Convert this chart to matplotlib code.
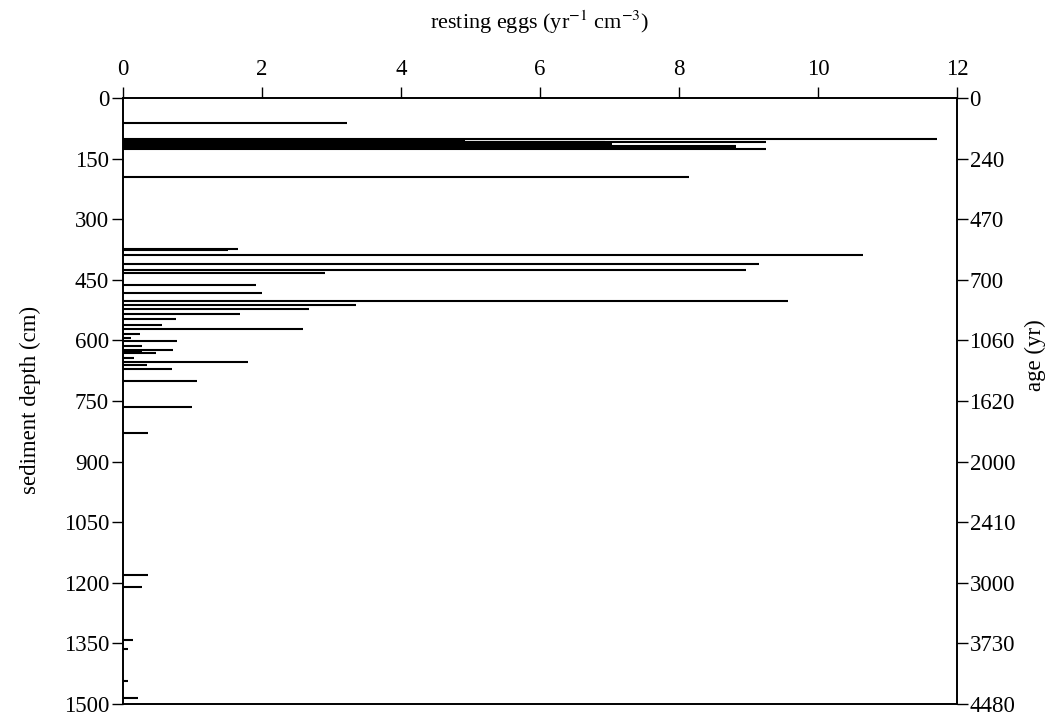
import matplotlib
matplotlib.use("Agg")
import matplotlib.pyplot as plt

# sediment depth (cm) of each sample and resting egg flux (yr^-1 cm^-3)
depth_cm = [62, 102, 104, 106, 108, 110, 112, 114, 119, 121, 123, 125, 127, 196,
            373, 377, 389, 412, 425, 433, 462, 482, 502, 512, 523, 534, 548,
            563, 572, 583, 593, 602, 613, 624, 627, 629, 631, 643, 653, 662,
            672, 700, 765, 829, 1180, 1211, 1341, 1365, 1443, 1484]
eggs = [3.23, 11.71, 4.92, 4.92, 9.25, 6.93, 6.93, 7.03, 8.82, 8.82, 8.82, 8.82, 9.25, 8.14,
        1.66, 1.51, 10.65, 9.15, 8.97, 2.90, 1.91, 2.00, 9.57, 3.35, 2.68, 1.68, 0.76,
        0.56, 2.59, 0.24, 0.12, 0.77, 0.27, 0.72, 0.28, 0.28, 0.47, 0.16, 1.80, 0.34,
        0.71, 1.06, 1.00, 0.36, 0.36, 0.28, 0.15, 0.07, 0.07, 0.21]

depth_ticks = [0, 150, 300, 450, 600, 750, 900, 1050, 1200, 1350, 1500]
age_labels = ["0", "240", "470", "700", "1060", "1620", "2000", "2410", "3000", "3730", "4480"]
egg_ticks = [0, 2, 4, 6, 8, 10, 12]

plt.rcParams['font.family'] = ['Liberation Serif', 'DejaVu Serif']
plt.rcParams['mathtext.fontset'] = 'stix'

fig = plt.figure(figsize=(10.63, 7.15), dpi=100)
ax = fig.add_axes([0.1157, 0.0154, 0.7846, 0.8476])

ax.hlines(depth_cm, 0, eggs, color='black', linewidth=1.5)

ax.set_xlim(0, 12)
ax.set_ylim(1500, 0)
ax.xaxis.tick_top()
ax.set_xticks(egg_ticks)
ax.set_yticks(depth_ticks)
ax.tick_params(axis='x', direction='out', length=8, width=1, labelsize=16.5, pad=5)
ax.tick_params(axis='y', direction='out', length=8, width=1, labelsize=16.5, pad=2)
for s in ax.spines.values():
    s.set_linewidth(1.2)

ax2 = ax.twinx()
ax2.set_ylim(1500, 0)
ax2.set_yticks(depth_ticks)
ax2.set_yticklabels(age_labels)
ax2.tick_params(axis='y', direction='out', length=8, width=1, labelsize=16.5, pad=1)
for s in ax2.spines.values():
    s.set_linewidth(1.2)

fig.text(0.508, 0.969, 'resting eggs (yr$^{-1}$ cm$^{-3}$)', ha='center', va='center', fontsize=16)
fig.text(0.029, 0.44, 'sediment depth (cm)', rotation=90, ha='center', va='center', fontsize=16.5)
fig.text(0.974, 0.503, 'age (yr)', rotation=90, ha='center', va='center', fontsize=16.5)

fig.savefig('out.png', dpi=100)
